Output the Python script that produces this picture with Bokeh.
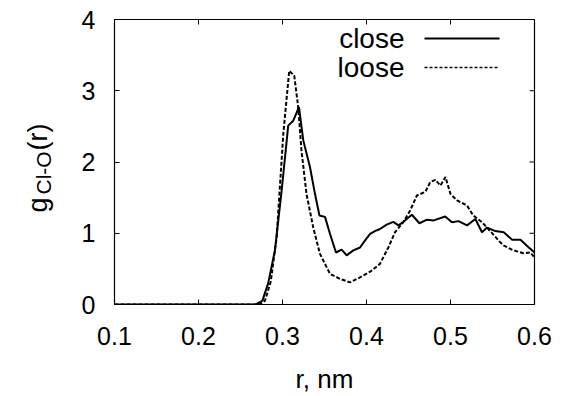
from bokeh.plotting import figure
from bokeh.layouts import row
from bokeh.models import Range1d, FixedTicker, Label, PolyAnnotation
from bokeh.core.properties import value
from bokeh.embed import file_html
from bokeh.resources import INLINE
import math

# ---- data ----
r_close = [0.10, 0.20, 0.262, 0.268, 0.276, 0.283, 0.291, 0.299, 0.3068, 0.3128, 0.3196,
           0.3248, 0.3327, 0.3387, 0.344, 0.3506, 0.3566, 0.3637, 0.3704, 0.3764, 0.3843,
           0.3923, 0.3983, 0.4043, 0.410, 0.416, 0.424, 0.432, 0.438, 0.444, 0.454, 0.463,
           0.472, 0.480, 0.4937, 0.5017, 0.5096, 0.5196, 0.5296, 0.5375, 0.5435, 0.5534,
           0.5634, 0.5733, 0.5833, 0.5932, 0.600]
g_close = [0.0, 0.0, 0.0, 0.0, 0.05, 0.30, 0.76, 1.60, 2.51, 2.58, 2.77,
           2.30, 1.93, 1.55, 1.25, 1.23, 0.99, 0.73, 0.77, 0.69, 0.76,
           0.80, 0.90, 0.99, 1.03, 1.06, 1.12, 1.16, 1.11, 1.16, 1.26, 1.14,
           1.19, 1.18, 1.235, 1.155, 1.17, 1.11, 1.20, 1.015, 1.08, 1.03,
           1.015, 0.91, 0.91, 0.80, 0.73]

r_loose = [0.10, 0.20, 0.265, 0.272, 0.279, 0.286, 0.293, 0.301, 0.308, 0.314, 0.3187,
           0.3226, 0.3286, 0.3366, 0.3446, 0.3566, 0.3685, 0.3804, 0.3923, 0.4043, 0.416,
           0.426, 0.434, 0.444, 0.452, 0.460, 0.470, 0.476, 0.482, 0.488, 0.494, 0.500,
           0.508, 0.5196, 0.527, 0.5375, 0.545, 0.557, 0.563, 0.575, 0.587, 0.595, 0.600]
g_loose = [0.0, 0.0, 0.0, 0.0, 0.05, 0.32, 0.94, 2.40, 3.28, 3.21, 2.77,
           2.16, 1.55, 1.08, 0.71, 0.43, 0.36, 0.31, 0.38, 0.46, 0.57,
           0.80, 1.015, 1.16, 1.32, 1.53, 1.58, 1.72, 1.75, 1.67, 1.79, 1.55,
           1.46, 1.39, 1.25, 1.155, 1.06, 0.90, 0.83, 0.76, 0.72, 0.73, 0.66]

x_ticks = [0.1, 0.2, 0.3, 0.4, 0.5, 0.6]
y_ticks = [0, 1, 2, 3, 4]
series_names = ["close", "loose"]
ylabel_parts = ["g", "Cl-O", "(r)"]

FONT = "Liberation Sans"

X0, X1 = 0.1, 0.6
Y0, Y1 = 0.0, 4.0
W, H = 570, 396
LW = 60                                  # width of the strip holding the y label
FL, FT, FR, FB = 114, 19, 534, 304       # frame edges in page pixels
FRAME_W, FRAME_H = FR - FL, FB - FT

# ---- strip with the rotated y-axis label (text with subscript) ----
# its frame is aligned with the main frame (page y 19..304); range = page pixels flipped
lab = figure(width=LW, height=H, output_backend="svg", toolbar_location=None,
             x_range=Range1d(0, LW), y_range=Range1d(H - FB, H - FT),
             x_axis_type=None, y_axis_type=None,
             min_border=0, min_border_left=0, min_border_right=0,
             min_border_top=FT, min_border_bottom=H - FB)
lab.outline_line_color = None
lab.xgrid.visible = False
lab.ygrid.visible = False
lab.background_fill_color = "white"
lab.border_fill_color = "white"
lab_x = [37, 43, 37]
lab_y_top = [212, 194, 150]
lab_size = ["27px", "21px", "27px"]
for t, xx, yy, fs in zip(ylabel_parts, lab_x, lab_y_top, lab_size):
    lab.text(x=[xx], y=[H - yy], text=[t], angle=math.pi / 2,
             text_font=value(FONT), text_font_size=value(fs),
             text_align="left", text_baseline="alphabetic", text_color="black")

# ---- main plot ----
p = figure(width=W - LW, height=H, output_backend="svg", toolbar_location=None,
           x_range=Range1d(X0, X1), y_range=Range1d(Y0, Y1),
           min_border_left=FL - LW, min_border_right=W - FR, min_border_top=FT,
           min_border_bottom=H - FB)
p.background_fill_color = "white"
p.border_fill_color = "white"
p.outline_line_color = "black"
p.outline_line_width = 1.2
p.xgrid.visible = False
p.ygrid.visible = False

def style(ax):
    ax.axis_line_color = None
    ax.major_tick_in = 5
    ax.major_tick_out = 0
    ax.minor_tick_in = 0
    ax.minor_tick_out = 0
    ax.major_tick_line_color = "black"
    ax.major_tick_line_width = 1
    ax.major_label_text_font = FONT
    ax.major_label_text_font_size = "25px"
    ax.major_label_text_color = "black"

xa = p.xaxis[0]
xa.ticker = FixedTicker(ticks=x_ticks)
style(xa)
xa.major_label_standoff = 22
xa.axis_label = "r, nm"
xa.axis_label_text_font = FONT
xa.axis_label_text_font_size = "26px"
xa.axis_label_text_font_style = "normal"
xa.axis_label_text_color = "black"
xa.axis_label_standoff = 16

ya = p.yaxis[0]
ya.ticker = FixedTicker(ticks=y_ticks)
style(ya)
ya.major_label_standoff = 19

# mirrored inward ticks on top and right (length 5 px converted through the scales)
tx = 5 / FRAME_W * (X1 - X0)
ty = 5 / FRAME_H * (Y1 - Y0)
p.segment(x0=x_ticks, y0=[Y1] * len(x_ticks), x1=x_ticks, y1=[Y1 - ty] * len(x_ticks),
          line_color="black", line_width=1)
p.segment(x0=[X1] * len(y_ticks), y0=y_ticks, x1=[X1 - tx] * len(y_ticks), y1=y_ticks,
          line_color="black", line_width=1)

p.line(r_close, g_close, line_color="black", line_width=2)
p.line(r_loose, g_loose, line_color="black", line_width=2, line_dash="4 2")

# helpers: page pixel -> data coordinates
def dx(px):
    return X0 + (px - FL) / FRAME_W * (X1 - X0)

def dy(py):
    return Y0 + (FB - py) / FRAME_H * (Y1 - Y0)

# legend (gnuplot style: text then sample line)
for name, py, dash, lw in [(series_names[0], 38, "solid", 2), (series_names[1], 67, "3 2", 1.5)]:
    p.add_layout(Label(x=dx(404), y=dy(py), text=name, text_align="right",
                       text_baseline="middle", text_font=FONT,
                       text_font_size="28px", text_color="black"))
    p.add_layout(PolyAnnotation(xs=[dx(424), dx(499)], ys=[dy(py), dy(py)],
                                line_color="black", line_alpha=1.0, line_width=lw,
                                line_dash=dash, fill_color=None, fill_alpha=0))

layout = row(lab, p, spacing=0)
open("out.html", "w").write(file_html(layout, INLINE))
